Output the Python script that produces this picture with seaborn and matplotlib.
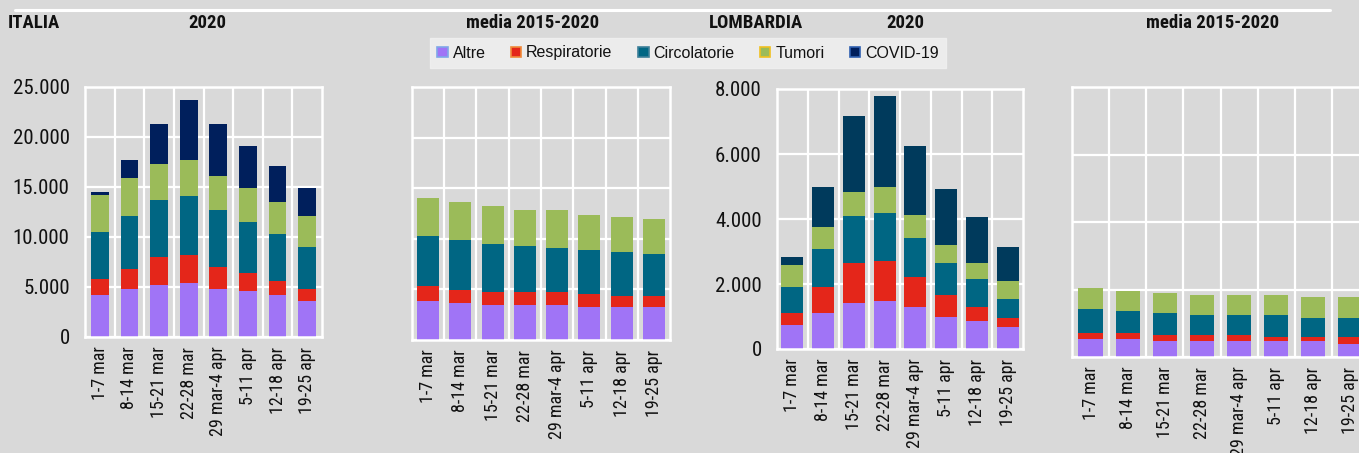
import matplotlib
matplotlib.use("Agg")
import matplotlib.pyplot as plt
import seaborn as sns
import pandas as pd
import numpy as np
from matplotlib.patches import Patch
from matplotlib.lines import Line2D
from matplotlib.ticker import FuncFormatter, FixedLocator

# ---------------- data ----------------
periods = ["1-7 mar", "8-14 mar", "15-21 mar", "22-28 mar",
           "29 mar-4 apr", "5-11 apr", "12-18 apr", "19-25 apr"]
causes = ["Altre", "Respiratorie", "Circolatorie", "Tumori", "COVID-19"]

ita2020_altre = [4200, 4810, 5210, 5410, 4810, 4610, 4210, 3610]
ita2020_resp = [1580, 1970, 2770, 2770, 2170, 1770, 1370, 1170]
ita2020_circ = [4740, 5340, 5740, 5950, 5740, 5140, 4740, 4180]
ita2020_tum = [3640, 3810, 3610, 3610, 3410, 3410, 3210, 3170]
ita2020_covid = [370, 1800, 4010, 5980, 5210, 4210, 3610, 2810]

itamed_altre = [3900, 3700, 3500, 3500, 3500, 3300, 3300, 3300]
itamed_resp = [1400, 1200, 1200, 1200, 1200, 1200, 1000, 1000]
itamed_circ = [5000, 5000, 4800, 4600, 4400, 4400, 4400, 4200]
itamed_tum = [3700, 3700, 3700, 3500, 3700, 3500, 3500, 3500]
itamed_covid = [0, 0, 0, 0, 0, 0, 0, 0]

lom2020_altre = [750, 1120, 1420, 1490, 1300, 990, 870, 690]
lom2020_resp = [370, 800, 1230, 1230, 920, 680, 430, 250]
lom2020_circ = [790, 1150, 1450, 1450, 1210, 970, 850, 610]
lom2020_tum = [680, 690, 740, 800, 680, 550, 490, 550]
lom2020_covid = [250, 1220, 2330, 2820, 2140, 1720, 1410, 1030]

lommed_altre = [520, 520, 460, 460, 460, 460, 460, 400]
lommed_resp = [180, 180, 180, 180, 180, 120, 120, 180]
lommed_circ = [710, 650, 650, 590, 590, 650, 590, 590]
lommed_tum = [620, 620, 620, 620, 620, 620, 620, 620]
lommed_covid = [0, 0, 0, 0, 0, 0, 0, 0]

col_altre = "#a074f6"
col_resp = "#e4261a"
col_circ = "#006683"
col_tum = "#9bbb59"
col_covid_ita = "#001f5c"
col_covid_lom = "#003a5c"
bg = "#d9d9d9"

sns.set_theme(style="white")
NARROW = ["Roboto Condensed", "Liberation Sans", "DejaVu Sans"]
plt.rcParams["font.family"] = NARROW

W, H = 1359, 453
fig = plt.figure(figsize=(W / 100, H / 100), dpi=100, facecolor=bg)


def fmt(v, _):
    return f"{int(round(v)):,}".replace(",", ".")


def draw(rect, layers, colors, ymax, ystep, width, show_y):
    ax = fig.add_axes(rect)
    ax.set_facecolor(bg)
    cum = np.cumsum(np.array(layers, dtype=float), axis=0)
    for i in reversed(range(len(layers))):
        if np.all(np.array(layers[i]) == 0):
            continue
        d = pd.DataFrame({"period": periods, "value": cum[i]})
        sns.barplot(data=d, x="period", y="value", color=colors[i],
                    saturation=1, width=width, errorbar=None, ax=ax,
                    linewidth=0)
    ax.set_xlim(-0.5, len(periods) - 0.5)
    ax.set_ylim(0, ymax)
    ax.set_xlabel("")
    ax.set_ylabel("")
    ax.yaxis.set_major_locator(FixedLocator(np.arange(0, ymax + 1, ystep)))
    ax.yaxis.set_major_formatter(FuncFormatter(fmt))
    ax.xaxis.set_minor_locator(FixedLocator(np.arange(0.5, len(periods) - 0.5, 1)))
    ax.set_axisbelow(True)
    ax.grid(axis="y", which="major", color="white", lw=1.6)
    ax.grid(axis="x", which="minor", color="white", lw=1.6)
    ax.grid(axis="x", which="major", visible=False)
    for s in ax.spines.values():
        s.set_color("white")
        s.set_linewidth(1.8)
    ax.tick_params(axis="both", which="both", length=0)
    ax.tick_params(axis="y", pad=11, labelsize=15, colors="#111111")
    ax.tick_params(axis="x", pad=7, labelsize=13, colors="#111111")
    plt.setp(ax.get_xticklabels(), rotation=90, va="top", ha="center")
    if not show_y:
        ax.set_yticklabels([])
    return ax


def fx(px):
    return px / W


def fy(px):
    return 1 - px / H


# panel rectangles (left, bottom, width, height) in figure fractions
r1 = [fx(85), fy(337), fx(237), 250 / H]
r2 = [fx(412), fy(340), fx(258), 253 / H]
r3 = [fx(777), fy(349), fx(246), 260 / H]
r4 = [fx(1072), fy(357), fx(297), 270 / H]

c_ita = [col_altre, col_resp, col_circ, col_tum, col_covid_ita]
c_lom = [col_altre, col_resp, col_circ, col_tum, col_covid_lom]

draw(r1, [ita2020_altre, ita2020_resp, ita2020_circ, ita2020_tum, ita2020_covid],
     c_ita, 25000, 5000, 0.6, True)
draw(r2, [itamed_altre, itamed_resp, itamed_circ, itamed_tum, itamed_covid],
     c_ita, 25000, 5000, 0.68, False)
draw(r3, [lom2020_altre, lom2020_resp, lom2020_circ, lom2020_tum, lom2020_covid],
     c_lom, 8000, 2000, 0.72, True)
draw(r4, [lommed_altre, lommed_resp, lommed_circ, lommed_tum, lommed_covid],
     c_lom, 8000, 2000, 0.65, False)

# top white rule
fig.add_artist(Line2D([fx(15), fx(1330)], [fy(9.5), fy(9.5)], color="white", lw=2.2,
                      transform=fig.transFigure))

# titles
tkw = dict(fontsize=13.5, fontweight="bold", color="#111111", va="center")
fig.text(fx(8), fy(23), "ITALIA", ha="left", **tkw)
fig.text(fx(207), fy(23), "2020", ha="center", **tkw)
fig.text(fx(533), fy(23), "media 2015-2020", ha="center", **tkw)
fig.text(fx(756), fy(23), "LOMBARDIA", ha="center", **tkw)
fig.text(fx(905), fy(23), "2020", ha="center", **tkw)
fig.text(fx(1213), fy(23), "media 2015-2020", ha="center", **tkw)

# legend
edge_cols = ["#7fa7e8", "#f08a3a", "#3d7f99", "#f0c020", "#3060b0"]
fills = [col_altre, col_resp, col_circ, col_tum, col_covid_ita]
handles = [Patch(facecolor=f, edgecolor=e, lw=1.2, label=l)
           for f, e, l in zip(fills, edge_cols, causes)]
leg = fig.legend(handles=handles, loc="center", bbox_to_anchor=(fx(688), fy(53)),
                 ncol=5, frameon=True, fontsize=11.5, handlelength=0.65,
                 handleheight=0.65, handletextpad=0.3, columnspacing=1.6,
                 borderpad=0.45, fancybox=False)
leg.get_frame().set_facecolor("#f2f2f2")
leg.get_frame().set_edgecolor("#f2f2f2")
for t in leg.get_texts():
    t.set_family(["Liberation Sans", "DejaVu Sans"])
    t.set_color("#111111")

fig.savefig("out.png", dpi=100, facecolor=bg)
